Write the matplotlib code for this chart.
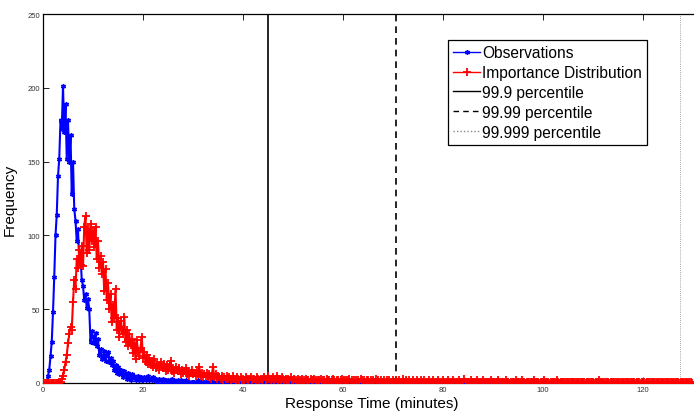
import numpy as np
import matplotlib
matplotlib.use("Agg")
import matplotlib.pyplot as plt

bin_width = 0.25  # minutes

# ---- Observations (blue), 0 .. 44.75 minutes, explicit values ----
obs_head = [
    0, 0, 0, 0, 5, 9, 18, 28, 48, 72, 100, 114, 140, 152, 178, 172,
    201, 170, 189, 152, 178, 150, 168, 128, 150, 118, 110, 96, 104, 82, 86, 70,
    66, 56, 60, 51, 57, 50, 28, 35, 31, 27, 34, 25, 30, 19, 23, 16,
    18, 22, 15, 19, 21, 14, 17, 12, 15, 9, 12, 7, 11, 6, 9, 7,
    4, 8, 6, 3, 7, 5, 2, 6, 4, 5, 2, 3, 5, 2, 4, 2,
    3, 4, 2, 3, 5, 2, 3, 2, 4, 2, 3, 1, 2, 3, 2, 1, 3, 2, 2, 1,
    2, 1, 2, 3, 1, 2, 1, 1, 2, 1, 2, 1, 1, 0, 2, 1, 1, 1, 0, 1,
    1, 1, 0, 1, 2, 0, 1, 1, 0, 1, 1, 0, 1, 0, 1, 1, 0, 1, 0, 0,
    1, 0, 0, 1, 0, 1, 0, 0, 1, 0, 0, 0, 1, 0, 0, 1, 0, 0, 0, 0,
    1, 0, 0, 0, 1, 0, 0, 0, 0, 1, 0, 0, 0, 0, 0, 1, 0, 0, 0, 0,
]
# 45 .. 129.75 minutes, one digit per bin (20 bins per 5 minutes)
obs_tail = [
    "00010000000100000000",
    "00000100000000010000",
    "00000000100000000000",
    "00010000000000002000",
    "00000000010000000000",
    "00000100000000000000",
    "00000000000100000000",
    "00000000000000010000",
    "00000010000000000000",
    "00000000000000000100",
    "00000000000000000000",
    "00000000000000000000",
    "00000000000000000000",
    "00000000000000000000",
    "00000000000000000000",
    "00000000000000000000",
    "00000000000000000000",
]

# ---- Importance distribution (red), 0 .. 39.75 minutes ----
imp_head = [
    0, 0, 0, 0, 0, 0, 0, 0, 0, 0, 0, 0, 0, 0, 1, 3,
    5, 9, 14, 19, 27, 33, 38, 36, 55, 70, 64, 84, 78, 90, 80, 93,
    79, 106, 113, 88, 104, 90, 108, 96, 103, 92, 106, 84, 96, 78, 86, 74,
    82, 62, 77, 56, 68, 50, 60, 41, 53, 44, 64, 36, 44, 31, 42, 36,
    33, 45, 28, 36, 25, 33, 26, 30, 20, 27, 16, 29, 22, 18, 24, 31,
    17, 21, 14, 19, 13, 17, 12, 15, 11, 16, 10, 13, 12, 9, 14, 11, 10, 13, 8, 12,
    9, 11, 15, 8, 10, 7, 11, 9, 8, 10, 6, 9, 7, 8, 10, 6, 8, 5, 7, 9,
    6, 7, 5, 8, 6, 11, 5, 7, 4, 6, 5, 7, 4, 6, 3, 5, 11, 4, 6, 3,
    5, 4, 3, 5, 2, 4, 3, 5, 3, 4, 2, 3, 5, 3, 2, 4, 3, 2, 4, 2,
]
# 40 .. 129.75 minutes, one digit per bin
imp_tail = [
    "32432342332432323423",
    "53234235232432323242",
    "23213223123221322321",
    "22312213221232122123",
    "12212312122121321212",
    "21212131212112121211",
    "21211211312112112112",
    "11211211121121112111",
    "21112111211112111311",
    "11211112111121111121",
    "11112111112110111121",
    "11121101111112111011",
    "12111011111210111111",
    "01111110111111011111",
    "10111211011110111110",
    "11101111011111011101",
    "11011110111011110111",
    "01110111101101110110",
]

percentile_labels = ["99.9 percentile", "99.99 percentile", "99.999 percentile"]
percentile_values = [45.0, 70.6, 127.4]
series_labels = ["Observations", "Importance Distribution"]

x_ticks = [0, 20, 40, 60, 80, 100, 120]
y_ticks = [0, 50, 100, 150, 200, 250]

obs = np.array(obs_head + [int(c) for s in obs_tail for c in s], dtype=float)
imp = np.array(imp_head + [int(c) for s in imp_tail for c in s], dtype=float)
x_obs = np.arange(len(obs)) * bin_width
x_imp = np.arange(len(imp)) * bin_width

plt.rcParams['font.family'] = ['Liberation Sans', 'DejaVu Sans']

W, H = 694, 414
fig = plt.figure(figsize=(W / 100, H / 100), dpi=100)
ax = fig.add_axes([43 / W, (H - 384) / H, (W - 43) / W, (384 - 15) / H])

ax.plot(x_obs, obs, color='#0000ff', lw=1.5, marker=(6, 2, 0), ms=3.5, mew=1.0,
        label=series_labels[0], zorder=3)
ax.plot(x_imp, imp, color='#ff0000', lw=1.5, marker='+', ms=6.0, mew=1.3,
        label=series_labels[1], zorder=4)

styles = [dict(ls='-', color='black', lw=1.2),
          dict(ls=(0, (4, 3)), color='black', lw=1.2),
          dict(ls=(0, (1, 1.5)), color='#888888', lw=0.6)]
for val, lab, st in zip(percentile_values, percentile_labels, styles):
    ax.plot([val, val], [0, 250], label=lab, zorder=2, **st)

ax.set_xlim(0, 130.2)
ax.set_ylim(0, 250)
ax.set_xticks(x_ticks)
ax.set_yticks(y_ticks)
ax.tick_params(direction='in', length=4, width=0.6, top=True, right=False,
               labelsize=5.5, labelcolor='#333333', pad=2)
for sp in ['left', 'bottom', 'top']:
    ax.spines[sp].set_linewidth(0.9)
ax.spines['right'].set_visible(False)

ax.set_xlabel("Response Time (minutes)", fontsize=11, labelpad=1)
ax.xaxis.set_label_coords((372 - 43) / (W - 43), -0.035)
ax.set_ylabel("Frequency", fontsize=11)
ax.yaxis.set_label_coords(-(43 - 17) / (W - 43), 0.5)

leg = ax.legend(loc='upper left', bbox_to_anchor=((448 - 43) / (W - 43), (384 - 41) / 369),
                borderaxespad=0, fontsize=11.2, frameon=True, fancybox=False,
                edgecolor='black', framealpha=1, handlelength=1.75, handletextpad=0.1,
                labelspacing=0.32, borderpad=0.32, numpoints=1)
leg.get_frame().set_linewidth(0.9)
for ln in leg.get_lines():
    ln.set_linewidth(1.0)

fig.savefig("out.png", dpi=100)
